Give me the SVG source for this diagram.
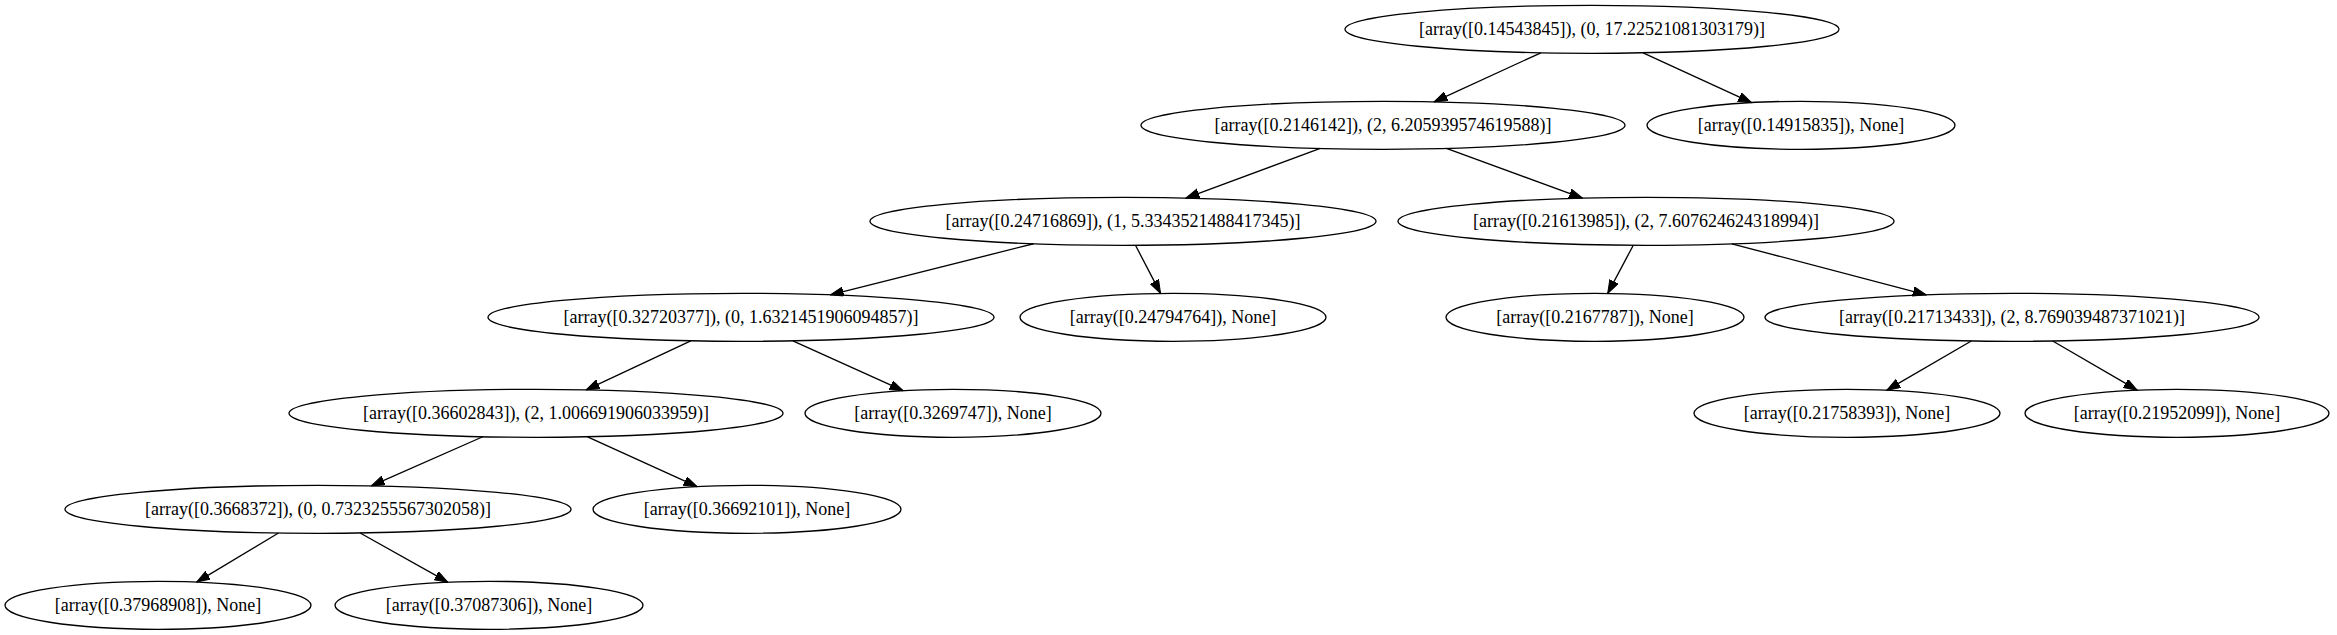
<svg xmlns="http://www.w3.org/2000/svg" width="2337" height="635" viewBox="0 0 2337 635">
<style>
.node ellipse{fill:none;stroke:#000;stroke-width:1.33}
.node text{font-family:"Liberation Serif","Times New Roman",serif;font-size:18px;fill:#000;text-anchor:middle}
#edges line{stroke:#000;stroke-width:1.33;marker-end:url(#arr)}
</style>
<defs>
<marker id="arr" markerUnits="userSpaceOnUse" markerWidth="14" markerHeight="10" refX="13.33" refY="4.67" orient="auto">
<path d="M0,0 L13.33,4.67 L0,9.33 z" fill="#000" stroke="#000" stroke-width="1"/>
</marker>
</defs>
<rect width="2337" height="635" fill="#fff"/>
<g id="edges">
<line x1="1540.88" y1="52.78" x2="1434.07" y2="101.84"/>
<line x1="1643.12" y1="52.78" x2="1751.52" y2="102.57"/>
<line x1="1320.23" y1="148.48" x2="1185.96" y2="198.05"/>
<line x1="1446.45" y1="148.46" x2="1582.45" y2="198.10"/>
<line x1="1033.65" y1="243.75" x2="830.35" y2="294.85"/>
<line x1="1135.48" y1="245.27" x2="1160.54" y2="293.38"/>
<line x1="1633.27" y1="245.27" x2="1607.70" y2="293.39"/>
<line x1="1731.84" y1="243.82" x2="1926.20" y2="294.79"/>
<line x1="690.77" y1="340.82" x2="586.18" y2="389.80"/>
<line x1="792.87" y1="340.79" x2="903.10" y2="390.71"/>
<line x1="1971.31" y1="340.97" x2="1886.83" y2="390.13"/>
<line x1="2052.69" y1="340.97" x2="2137.19" y2="390.14"/>
<line x1="482.78" y1="436.74" x2="371.28" y2="485.84"/>
<line x1="587.59" y1="436.77" x2="697.10" y2="486.60"/>
<line x1="278.49" y1="533.01" x2="196.70" y2="582.08"/>
<line x1="360.15" y1="532.96" x2="447.81" y2="582.17"/>
</g>
<g id="n0" class="node"><ellipse cx="1592" cy="29.3" rx="247" ry="24"/><text x="1592" y="35">[array([0.14543845]), (0, 17.22521081303179)]</text></g>
<g id="n1" class="node"><ellipse cx="1383" cy="125.3" rx="242" ry="24"/><text x="1383" y="131">[array([0.2146142]), (2, 6.205939574619588)]</text></g>
<g id="n2" class="node"><ellipse cx="1801" cy="125.3" rx="154" ry="24"/><text x="1801" y="131">[array([0.14915835]), None]</text></g>
<g id="n3" class="node"><ellipse cx="1123" cy="221.3" rx="253" ry="24"/><text x="1123" y="227">[array([0.24716869]), (1, 5.3343521488417345)]</text></g>
<g id="n4" class="node"><ellipse cx="1646" cy="221.3" rx="248" ry="24"/><text x="1646" y="227">[array([0.21613985]), (2, 7.607624624318994)]</text></g>
<g id="n5" class="node"><ellipse cx="741" cy="317.3" rx="253" ry="24"/><text x="741" y="323">[array([0.32720377]), (0, 1.6321451906094857)]</text></g>
<g id="n6" class="node"><ellipse cx="1173" cy="317.3" rx="153" ry="24"/><text x="1173" y="323">[array([0.24794764]), None]</text></g>
<g id="n7" class="node"><ellipse cx="1595" cy="317.3" rx="149" ry="24"/><text x="1595" y="323">[array([0.2167787]), None]</text></g>
<g id="n8" class="node"><ellipse cx="2012" cy="317.3" rx="247" ry="24"/><text x="2012" y="323">[array([0.21713433]), (2, 8.769039487371021)]</text></g>
<g id="n9" class="node"><ellipse cx="536" cy="413.3" rx="247" ry="24"/><text x="536" y="419">[array([0.36602843]), (2, 1.006691906033959)]</text></g>
<g id="n10" class="node"><ellipse cx="953" cy="413.3" rx="148" ry="24"/><text x="953" y="419">[array([0.3269747]), None]</text></g>
<g id="n11" class="node"><ellipse cx="1847" cy="413.3" rx="153" ry="24"/><text x="1847" y="419">[array([0.21758393]), None]</text></g>
<g id="n12" class="node"><ellipse cx="2177" cy="413.3" rx="152" ry="24"/><text x="2177" y="419">[array([0.21952099]), None]</text></g>
<g id="n13" class="node"><ellipse cx="318" cy="509.3" rx="253" ry="24"/><text x="318" y="515">[array([0.3668372]), (0, 0.7323255567302058)]</text></g>
<g id="n14" class="node"><ellipse cx="747" cy="509.3" rx="154" ry="24"/><text x="747" y="515">[array([0.36692101]), None]</text></g>
<g id="n15" class="node"><ellipse cx="158" cy="605.3" rx="153" ry="24"/><text x="158" y="611">[array([0.37968908]), None]</text></g>
<g id="n16" class="node"><ellipse cx="489" cy="605.3" rx="154" ry="24"/><text x="489" y="611">[array([0.37087306]), None]</text></g>
</svg>
